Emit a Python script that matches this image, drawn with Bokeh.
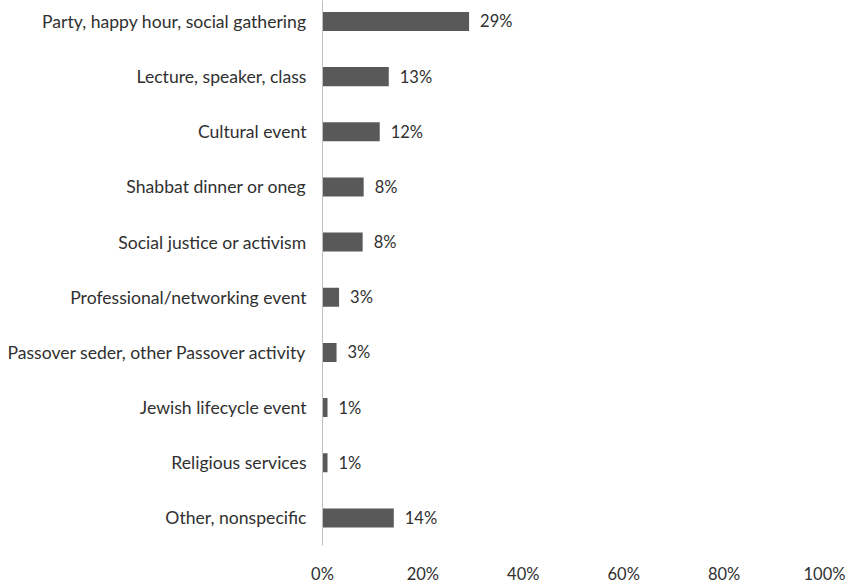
from bokeh.plotting import figure
from bokeh.models import ColumnDataSource, Range1d, FixedTicker, LabelSet
from bokeh.core.properties import value
from bokeh.embed import file_html
from bokeh.resources import INLINE

categories = [
    "Party, happy hour, social gathering",
    "Lecture, speaker, class",
    "Cultural event",
    "Shabbat dinner or oneg",
    "Social justice or activism",
    "Professional/networking event",
    "Passover seder, other Passover activity",
    "Jewish lifecycle event",
    "Religious services",
    "Other, nonspecific",
]
values = [29.2, 13.2, 11.4, 8.2, 8.0, 3.3, 2.8, 1.0, 1.0, 14.2]
labels = ["29%", "13%", "12%", "8%", "8%", "3%", "3%", "1%", "1%", "14%"]
x_ticks = [0, 20, 40, 60, 80, 100]
x_tick_labels = ["0%", "20%", "40%", "60%", "80%", "100%"]

n = len(categories)
ypos = [n - 1 - i for i in range(n)]

src = ColumnDataSource(dict(y=ypos, v=values, lab=labels, cat=categories))

FONT = "Lato"
TXT = "#303030"

p = figure(width=850, height=582, output_backend="svg", toolbar_location=None,
           frame_width=502, frame_height=545,
           x_range=Range1d(0, 100), y_range=Range1d(-0.5, 9.38),
           min_border_left=322, min_border_right=26, min_border_top=0,
           min_border_bottom=37)
p.outline_line_color = None
p.xgrid.visible = False
p.ygrid.visible = False
p.background_fill_color = "white"
p.border_fill_color = "white"

p.hbar(y="y", right="v", left=0, height=0.345, source=src,
       fill_color="#595959", line_color=None)

p.add_layout(LabelSet(x="v", y="y", text="lab", source=src, x_offset=11,
                      text_baseline="middle", text_font=value(FONT),
                      text_font_size=value("16.5px"), text_color=TXT))

# y axis
p.yaxis.ticker = FixedTicker(ticks=ypos)
p.yaxis.major_label_overrides = {yy: c for yy, c in zip(ypos, categories)}
p.yaxis.axis_line_color = "#bfbfbf"
p.yaxis.axis_line_width = 1
p.yaxis.major_tick_line_color = None
p.yaxis.minor_tick_line_color = None
p.yaxis.major_tick_out = 0
p.yaxis.major_tick_in = 0
p.yaxis.major_label_standoff = 16
p.yaxis.major_label_text_font = FONT
p.yaxis.major_label_text_font_size = "17.6px"
p.yaxis.major_label_text_color = TXT

# x axis
p.xaxis.ticker = FixedTicker(ticks=x_ticks)
p.xaxis.major_label_overrides = {t: l for t, l in zip(x_ticks, x_tick_labels)}
p.xaxis.axis_line_color = None
p.xaxis.major_tick_line_color = None
p.xaxis.minor_tick_line_color = None
p.xaxis.major_tick_out = 0
p.xaxis.major_tick_in = 0
p.xaxis.major_label_standoff = 18
p.xaxis.major_label_text_font = FONT
p.xaxis.major_label_text_font_size = "16.5px"
p.xaxis.major_label_text_color = TXT

open("out.html", "w").write(file_html(p, INLINE))
